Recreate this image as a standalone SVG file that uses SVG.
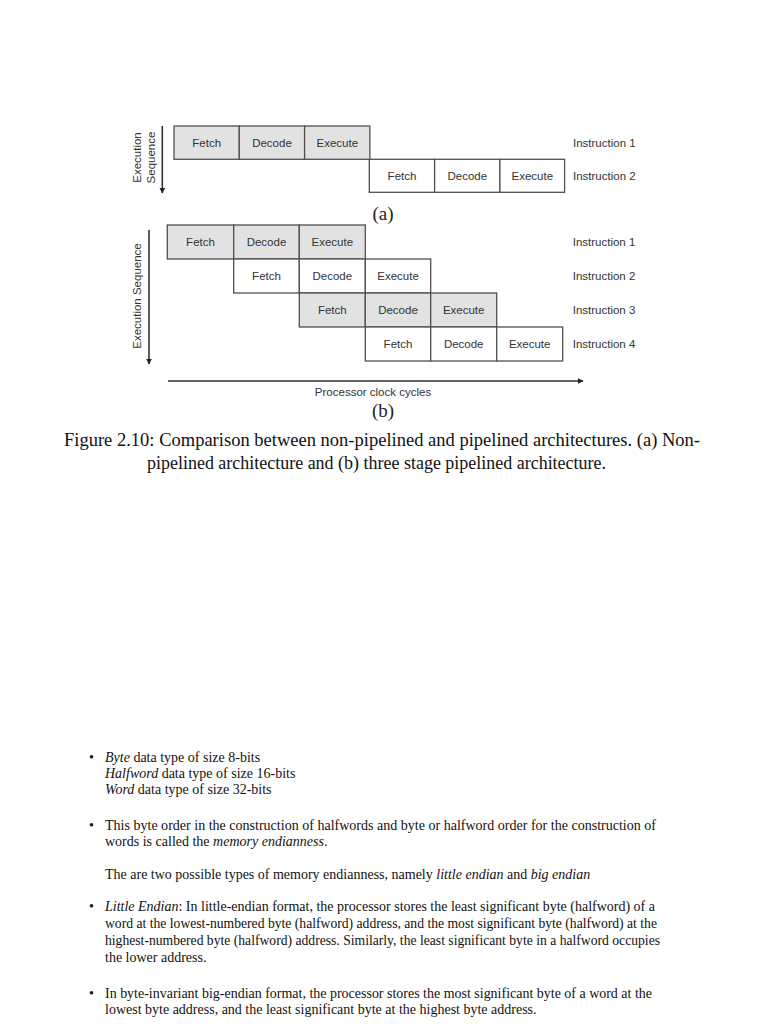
<svg xmlns="http://www.w3.org/2000/svg" width="768" height="1024" viewBox="0 0 768 1024">
<style>
.cg{fill:#e2e2e2;stroke:#505050;stroke-width:1.3}
.cw{fill:#ffffff;stroke:#505050;stroke-width:1.3}
.t{font-family:"Liberation Sans",Arial,sans-serif;font-size:11.5px;fill:#333;text-anchor:middle;dominant-baseline:central}
.il{font-family:"Liberation Sans",Arial,sans-serif;font-size:11.5px;fill:#333;dominant-baseline:central}
.ax{stroke:#333;stroke-width:1.6;fill:none}
.lab{font-family:"Liberation Serif","Times New Roman",serif;font-size:19px;fill:#222;text-anchor:middle;dominant-baseline:central}
.cap{font-family:"Liberation Serif","Times New Roman",serif;font-size:18px;fill:#111}
.b{font-family:"Liberation Serif","Times New Roman",serif;font-size:14px;fill:#111}
.i{font-style:italic}
</style>
<defs>
<marker id="ah" viewBox="0 0 10 10" refX="9" refY="5" markerWidth="6" markerHeight="6" orient="auto" markerUnits="userSpaceOnUse"><path d="M0,0 L10,5 L0,10 z" fill="#222"/></marker>
</defs>
<rect width="768" height="1024" fill="#fff"/>

<!-- (a) non-pipelined -->
<g id="a-i1">
<rect class="cg" x="174" y="126" width="65.3" height="33.3"/>
<rect class="cg" x="239.3" y="126" width="65.3" height="33.3"/>
<rect class="cg" x="304.6" y="126" width="65.3" height="33.3"/>
<text class="t" x="206.7" y="142.6">Fetch</text>
<text class="t" x="272" y="142.6">Decode</text>
<text class="t" x="337.3" y="142.6">Execute</text>
<text class="il" x="573" y="142.6">Instruction 1</text>
</g>
<g id="a-i2">
<rect class="cw" x="369.3" y="159.3" width="65.3" height="33"/>
<rect class="cw" x="434.6" y="159.3" width="65.3" height="33"/>
<rect class="cw" x="499.9" y="159.3" width="64.7" height="33"/>
<text class="il" x="573" y="175.8">Instruction 2</text>
<text class="t" x="402" y="175.8">Fetch</text>
<text class="t" x="467.3" y="175.8">Decode</text>
<text class="t" x="532.3" y="175.8">Execute</text>
</g>
<g id="a-axis">
<text class="il" transform="translate(137,157.5) rotate(-90)" text-anchor="middle">Execution</text>
<text class="il" transform="translate(151,157.5) rotate(-90)" text-anchor="middle">Sequence</text>
</g>
<text class="lab" x="383" y="213">(a)</text>

<!-- (b) pipelined -->
<g id="b-i1">
<rect class="cg" x="167.3" y="225" width="66.4" height="34"/>
<rect class="cg" x="233.7" y="225" width="65.6" height="34"/>
<rect class="cg" x="299.3" y="225" width="66" height="34"/>
<text class="t" x="200.5" y="242">Fetch</text>
<text class="t" x="266.5" y="242">Decode</text>
<text class="t" x="332.3" y="242">Execute</text>
<text class="il" x="572.7" y="242">Instruction 1</text>
</g>
<g id="b-i2">
<rect class="cw" x="233.7" y="259" width="65.6" height="34"/>
<rect class="cw" x="299.3" y="259" width="66" height="34"/>
<rect class="cw" x="365.3" y="259" width="65.4" height="34"/>
<text class="t" x="266.5" y="276">Fetch</text>
<text class="t" x="332.3" y="276">Decode</text>
<text class="t" x="398" y="276">Execute</text>
<text class="il" x="572.7" y="276">Instruction 2</text>
</g>
<g id="b-i3">
<rect class="cg" x="299.3" y="293" width="66" height="34"/>
<rect class="cg" x="365.3" y="293" width="65.4" height="34"/>
<rect class="cg" x="430.7" y="293" width="66" height="34"/>
<text class="t" x="332.3" y="310">Fetch</text>
<text class="t" x="398" y="310">Decode</text>
<text class="t" x="463.7" y="310">Execute</text>
<text class="il" x="572.7" y="310">Instruction 3</text>
</g>
<g id="b-i4">
<rect class="cw" x="365.3" y="327" width="65.4" height="34"/>
<rect class="cw" x="430.7" y="327" width="66" height="34"/>
<rect class="cw" x="496.7" y="327" width="66" height="34"/>
<text class="t" x="398" y="344">Fetch</text>
<text class="t" x="463.7" y="344">Decode</text>
<text class="t" x="529.7" y="344">Execute</text>
<text class="il" x="572.7" y="344">Instruction 4</text>
</g>
<g id="b-axes-labels">
<text class="il" transform="translate(136.5,296) rotate(-90)" text-anchor="middle">Execution Sequence</text>
<text class="t" x="373" y="392">Processor clock cycles</text>
</g>
<text class="lab" x="383" y="410">(b)</text>

<g id="connectors">
<line class="ax" x1="162.3" y1="126" x2="162.3" y2="193" marker-end="url(#ah)"/>
<line class="ax" x1="149" y1="230" x2="149" y2="364" marker-end="url(#ah)"/>
<line class="ax" x1="168" y1="381" x2="583" y2="381" marker-end="url(#ah)"/>
</g>

<!-- caption -->
<text class="cap" x="64" y="446" textLength="636" lengthAdjust="spacingAndGlyphs">Figure 2.10: Comparison between non-pipelined and pipelined architectures. (a) Non-</text>
<text class="cap" x="147" y="469" textLength="459" lengthAdjust="spacingAndGlyphs">pipelined architecture and (b) three stage pipelined architecture.</text>

<!-- body text -->
<g id="body">
<text class="b" x="89" y="762">•</text>
<text class="b" x="105" y="762"><tspan class="i">Byte</tspan> data type of size 8-bits</text>
<text class="b" x="105" y="778"><tspan class="i">Halfword</tspan> data type of size 16-bits</text>
<text class="b" x="105" y="794"><tspan class="i">Word</tspan> data type of size 32-bits</text>

<text class="b" x="89" y="830">•</text>
<text class="b" x="105" y="830" textLength="551" lengthAdjust="spacingAndGlyphs">This byte order in the construction of halfwords and byte or halfword order for the construction of</text>
<text class="b" x="105" y="846">words is called the <tspan class="i">memory endianness</tspan>.</text>

<text class="b" x="105" y="879">The are two possible types of memory endianness, namely <tspan class="i">little endian</tspan> and <tspan class="i">big endian</tspan></text>

<text class="b" x="89" y="911">•</text>
<text class="b" x="105" y="911" textLength="550" lengthAdjust="spacingAndGlyphs"><tspan class="i">Little Endian</tspan>: In little-endian format, the processor stores the least significant byte (halfword) of a</text>
<text class="b" x="105" y="928" textLength="552" lengthAdjust="spacingAndGlyphs">word at the lowest-numbered byte (halfword) address, and the most significant byte (halfword) at the</text>
<text class="b" x="105" y="945" textLength="555" lengthAdjust="spacingAndGlyphs">highest-numbered byte (halfword) address. Similarly, the least significant byte in a halfword occupies</text>
<text class="b" x="105" y="962">the lower address.</text>

<text class="b" x="89" y="998">•</text>
<text class="b" x="105" y="998" textLength="547" lengthAdjust="spacingAndGlyphs">In byte-invariant big-endian format, the processor stores the most significant byte of a word at the</text>
<text class="b" x="105" y="1014">lowest byte address, and the least significant byte at the highest byte address.</text>
</g>
</svg>
